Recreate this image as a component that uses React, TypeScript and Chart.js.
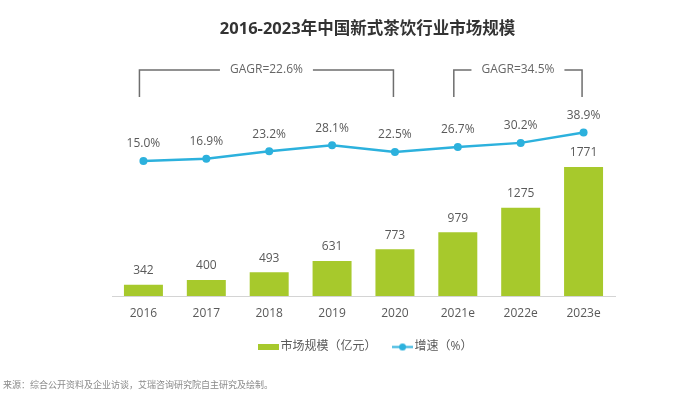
import React, { useEffect, useRef } from 'react';
import { Chart, registerables } from 'chart.js';

Chart.register(...registerables);

const categories = ['2016', '2017', '2018', '2019', '2020', '2021e', '2022e', '2023e'];
const marketSize = [342, 400, 493, 631, 773, 979, 1275, 1771];
const growthRate = [15.0, 16.9, 23.2, 28.1, 22.5, 26.7, 30.2, 38.9];
const seriesNames = ['市场规模（亿元）', '增速（%）'];
const cagrFrom = [0, 5];
const cagrTo = [4, 7];
const cagrLabels = ['GAGR=22.6%', 'GAGR=34.5%'];
const titleText = '2016-2023年中国新式茶饮行业市场规模';
const sourceText = '来源：综合公开资料及企业访谈，艾瑞咨询研究院自主研究及绘制。';

const FONT = '"Open Sans", "Noto Sans CJK SC", sans-serif';
const GREEN = '#a7c92c';
const BLUE = '#2cb1dd';
const TEXT = '#595959';

function makeIcons() {
  const bar = document.createElement('canvas');
  bar.width = 21;
  bar.height = 6;
  const b = bar.getContext('2d')!;
  b.fillStyle = GREEN;
  b.fillRect(0, 0, 21, 6);

  const line = document.createElement('canvas');
  line.width = 21;
  line.height = 9;
  const l = line.getContext('2d')!;
  l.strokeStyle = BLUE;
  l.lineWidth = 2;
  l.beginPath();
  l.moveTo(0, 4.5);
  l.lineTo(21, 4.5);
  l.stroke();
  l.fillStyle = BLUE;
  l.beginPath();
  l.arc(10.5, 4.5, 3.5, 0, Math.PI * 2);
  l.fill();
  return [bar, line];
}

const annotPlugin = {
  id: 'annot',
  afterDatasetsDraw(chart: any) {
    const ctx = chart.ctx as CanvasRenderingContext2D;
    const x = chart.scales.x;
    ctx.save();
    ctx.textAlign = 'center';
    ctx.textBaseline = 'middle';

    // bar value labels
    ctx.font = `12px ${FONT}`;
    ctx.fillStyle = TEXT;
    const barMeta = chart.getDatasetMeta(0);
    barMeta.data.forEach((el: any, i: number) => {
      ctx.fillText(String(marketSize[i]), el.x, el.y - 14);
    });

    // line value labels
    const lineMeta = chart.getDatasetMeta(1);
    lineMeta.data.forEach((el: any, i: number) => {
      ctx.fillText(growthRate[i].toFixed(1) + '%', el.x, el.y - 17);
    });

    // CAGR brackets
    const yTop = 70;
    const yBot = 97;
    ctx.strokeStyle = '#6e6e6e';
    ctx.lineWidth = 1.5;
    ctx.font = `12px ${FONT}`;
    ctx.fillStyle = '#666666';
    for (let k = 0; k < cagrLabels.length; k++) {
      const left = x.getPixelForValue(cagrFrom[k]) - 4;
      const right = x.getPixelForValue(cagrTo[k]) - 1.5;
      const mid = (left + right) / 2;
      const tw = ctx.measureText(cagrLabels[k]).width;
      const gap = 10;
      ctx.beginPath();
      ctx.moveTo(left, yBot);
      ctx.lineTo(left, yTop);
      ctx.lineTo(mid - tw / 2 - gap, yTop);
      ctx.moveTo(mid + tw / 2 + gap, yTop);
      ctx.lineTo(right, yTop);
      ctx.lineTo(right, yBot);
      ctx.stroke();
      ctx.fillText(cagrLabels[k], mid, yTop);
    }

    // source text
    ctx.textAlign = 'left';
    ctx.font = `9px ${FONT}`;
    ctx.fillStyle = '#8a8a8a';
    ctx.fillText(sourceText, 3, 385);
    ctx.restore();
  },
};

export default function App() {
  const ref = useRef<HTMLCanvasElement>(null);

  useEffect(() => {
    if (!ref.current) return;
    const icons = makeIcons();
    const chart = new Chart(ref.current, {
      data: {
        labels: categories,
        datasets: [
          {
            type: 'bar',
            label: seriesNames[0],
            data: marketSize,
            backgroundColor: GREEN,
            borderWidth: 0,
            barPercentage: 0.62,
            categoryPercentage: 1,
            yAxisID: 'y',
          },
          {
            type: 'line',
            label: seriesNames[1],
            data: growthRate,
            borderColor: BLUE,
            backgroundColor: BLUE,
            borderWidth: 2.5,
            pointRadius: 4,
            pointBackgroundColor: BLUE,
            pointBorderWidth: 0,
            tension: 0,
            yAxisID: 'y1',
          },
        ],
      } as any,
      options: {
        responsive: false,
        animation: false,
        events: [],
        layout: { padding: { left: 112, right: 70, top: 0, bottom: 34 } },
        scales: {
          x: {
            grid: { display: false, drawTicks: false },
            border: { display: true, color: '#d4d4d4', width: 1 },
            ticks: { color: TEXT, font: { size: 12, family: FONT }, padding: 10 },
            afterFit: (s: any) => {
              s.height = 25;
            },
          },
          y: { display: false, min: 206, max: 2590 },
          y1: {
            display: true,
            position: 'right',
            min: -98.7,
            max: 66.8,
            ticks: { display: false },
            grid: { display: false, drawTicks: false },
            border: { display: false },
            afterFit: (s: any) => {
              s.width = 8;
            },
          },
        },
        plugins: {
          tooltip: { enabled: false },
          title: {
            display: true,
            text: titleText,
            color: '#333333',
            font: { size: 16.5, weight: 'bold', family: FONT },
            padding: { top: 19.8, bottom: 59.8 },
          },
          legend: {
            display: true,
            position: 'bottom',
            labels: {
              usePointStyle: true,
              pointStyleWidth: 12,
              padding: 20,
              color: TEXT,
              font: { size: 12, family: FONT },
              generateLabels: (c: any) => {
                const items = (Chart.defaults.plugins.legend.labels as any).generateLabels(c);
                items.forEach((it: any) => {
                  it.pointStyle = icons[it.datasetIndex];
                  it.fontColor = TEXT;
                });
                return items;
              },
            },
          },
        },
      } as any,
      plugins: [annotPlugin],
    });
    return () => chart.destroy();
  }, []);

  return (
    <div style={{ position: 'absolute', left: 0, top: 0, width: 693, height: 397, background: '#fff' }}>
      <canvas ref={ref} width={693} height={397} />
    </div>
  );
}
